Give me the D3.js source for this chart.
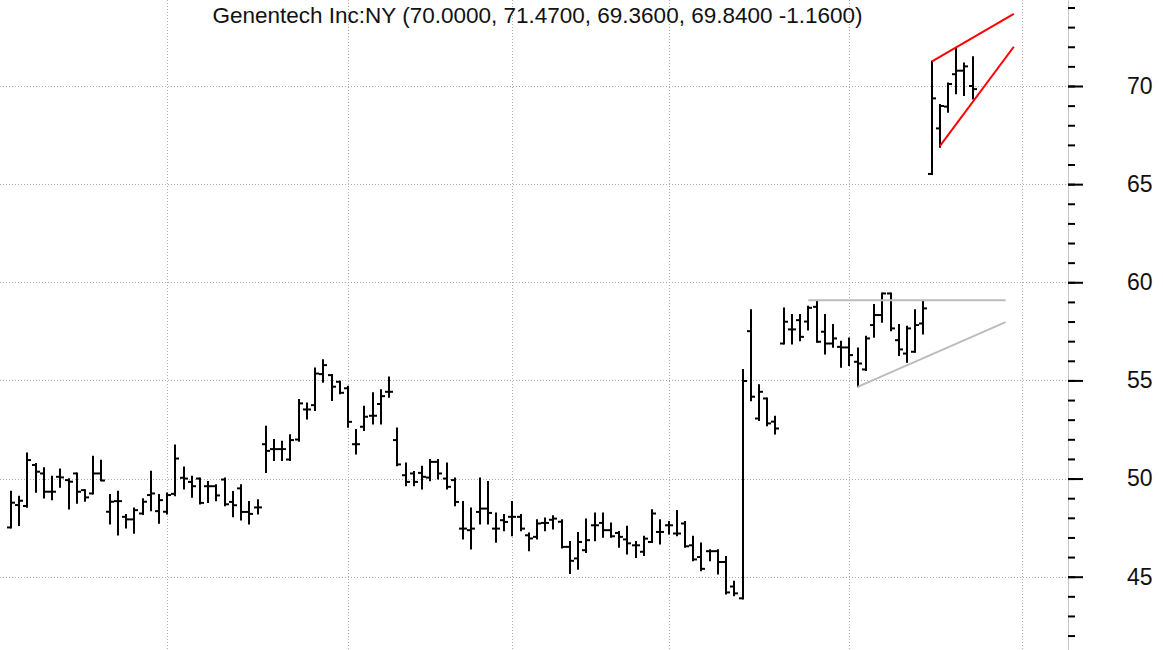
<!DOCTYPE html>
<html>
<head>
<meta charset="utf-8">
<script src="https://cdn.jsdelivr.net/npm/d3@7"></script>
<style>
  body { margin: 0; background: #fff; }
  svg { display: block; font-family: "Liberation Sans", Arial, sans-serif; }
</style>
</head>
<body>
<div class="chart"></div>
<script>
/*globals d3*/
const title = "Genentech Inc:NY (70.0000, 71.4700, 69.3600, 69.8400 -1.1600)";

// daily OHLC (118 sessions)
const opens = [
  47.51, 48.65, 48.60, 50.69, 50.26, 49.33, 50.09, 49.92, 50.26, 49.41,
  49.24, 50.26, 48.31, 48.85, 48.05, 47.92, 48.22, 49.16, 48.34, 48.31,
  49.22, 50.04, 49.83, 50.00, 49.61, 49.61, 49.95, 48.81, 49.50, 48.30,
  48.53, 51.75, 51.50, 51.50, 50.97, 51.99, 53.52, 53.74, 55.32, 55.27,
  54.93, 54.60, 51.75, 52.64, 53.20, 53.80, 54.42, 51.96, 50.17, 50.26,
  50.29, 50.05, 50.85, 50.00, 49.92, 47.45, 47.37, 48.30, 48.47, 47.45,
  47.88, 48.05, 48.05, 47.11, 47.03, 47.74, 47.90, 47.80, 46.52, 45.93,
  46.35, 47.62, 47.74, 47.37, 47.23, 46.90, 46.60, 46.27, 46.77, 47.28,
  47.62, 47.20, 47.71, 46.60, 46.00, 46.30, 46.30, 45.75, 44.50, 43.90,
  57.51, 53.06, 54.08, 52.90, 56.88, 57.60, 58.07, 58.00, 58.75, 57.48,
  56.88, 56.71, 56.68, 55.95, 55.56, 57.82, 58.33, 59.43, 57.05, 56.37,
  56.46, 57.90, 65.52, 67.84, 68.95, 70.60, 70.78, 70.00
];
const highs = [
  49.33, 49.07, 51.28, 50.74, 50.52, 50.09, 50.46, 49.96, 50.26, 49.41,
  51.11, 50.91, 49.16, 49.33, 48.14, 48.48, 48.94, 50.35, 49.16, 49.24,
  51.68, 50.56, 50.09, 50.00, 49.83, 49.66, 50.00, 49.32, 49.66, 48.81,
  48.90, 52.64, 51.96, 51.87, 52.21, 54.00, 53.83, 55.61, 56.03, 55.27,
  54.93, 54.68, 52.47, 53.66, 54.34, 54.50, 55.15, 52.55, 50.77, 50.34,
  50.60, 50.94, 50.94, 50.77, 50.00, 48.81, 48.47, 50.00, 49.83, 48.22,
  48.14, 48.81, 48.14, 47.20, 47.88, 47.96, 48.08, 47.88, 46.77, 47.23,
  47.91, 48.22, 48.22, 47.71, 47.28, 47.54, 46.77, 47.03, 48.39, 47.88,
  47.79, 48.35, 47.79, 47.03, 46.69, 46.35, 46.35, 46.00, 44.74, 55.53,
  58.58, 54.76, 54.08, 53.15, 58.67, 58.33, 58.33, 58.75, 59.00, 58.33,
  57.82, 56.97, 57.14, 56.63, 57.22, 58.84, 59.43, 59.43, 57.82, 57.73,
  58.58, 59.00, 71.24, 69.03, 70.13, 71.92, 71.15, 71.47
];
const lows = [
  47.51, 47.63, 48.56, 49.33, 49.04, 48.94, 49.58, 48.48, 48.77, 48.87,
  49.24, 49.92, 47.71, 47.15, 47.51, 47.24, 48.19, 48.39, 47.75, 48.22,
  49.15, 49.49, 49.07, 48.73, 48.81, 48.90, 48.64, 48.08, 47.91, 47.71,
  48.22, 50.34, 50.94, 50.94, 50.94, 51.92, 53.06, 53.49, 54.93, 54.00,
  54.34, 52.64, 51.28, 52.47, 52.80, 52.80, 54.17, 50.68, 49.66, 49.66,
  49.49, 49.92, 50.00, 49.49, 48.64, 46.95, 46.44, 47.71, 47.71, 46.78,
  47.37, 47.11, 47.37, 46.35, 46.95, 47.37, 47.45, 46.49, 45.19, 45.41,
  46.26, 46.86, 47.03, 47.03, 46.52, 46.18, 46.01, 46.10, 46.77, 46.69,
  47.20, 47.11, 46.52, 45.84, 45.33, 45.84, 45.16, 44.14, 44.06, 43.89,
  53.99, 52.98, 52.72, 52.30, 56.88, 56.88, 57.05, 57.60, 56.97, 56.37,
  56.71, 55.70, 55.78, 54.70, 55.53, 57.22, 57.99, 57.56, 56.29, 55.95,
  56.46, 57.39, 65.52, 66.91, 68.69, 69.63, 69.54, 69.36
];
const closes = [
  48.77, 48.87, 50.94, 50.35, 49.33, 49.33, 50.06, 49.84, 49.33, 49.04,
  50.26, 49.90, 48.82, 48.85, 47.92, 48.39, 48.82, 49.24, 48.90, 49.16,
  51.02, 50.00, 49.61, 48.76, 49.61, 49.14, 48.69, 48.64, 48.30, 48.20,
  48.53, 51.41, 51.50, 51.50, 51.96, 53.83, 53.52, 55.35, 55.78, 54.68,
  54.37, 52.89, 51.75, 53.15, 53.20, 54.20, 54.42, 50.72, 49.83, 49.83,
  50.09, 50.85, 50.26, 49.58, 48.81, 47.45, 47.45, 48.47, 48.25, 47.45,
  47.79, 48.05, 47.45, 46.95, 47.71, 47.74, 47.96, 46.52, 45.81, 46.77,
  46.86, 47.62, 47.37, 47.06, 47.03, 46.70, 46.60, 46.94, 48.22, 47.28,
  47.62, 47.20, 46.55, 45.88, 45.40, 46.30, 45.75, 44.20, 44.15, 54.97,
  54.17, 54.42, 52.81, 52.55, 57.99, 57.60, 57.22, 58.70, 56.97, 56.88,
  57.14, 56.68, 56.29, 55.86, 57.14, 58.33, 59.43, 57.65, 56.58, 57.65,
  57.82, 58.67, 69.37, 68.98, 70.10, 70.78, 71.00, 69.84
];

// session index where each month starts (dotted verticals)
const monthStarts = [19, 41, 61, 80, 102, 123];
const majorTicks = [45, 50, 55, 60, 65, 70];
const minorTicks = d3.range(42, 75);

// drawn trend lines: [index, price] pairs
const flagLines = [
  [[112, 71.24], [122, 73.67]],
  [[113, 66.94], [122, 72.0]]
];
const triangleLines = [
  [[97, 59.09], [121, 59.09]],
  [[103, 54.67], [121, 57.97]]
];

const width = 1163, height = 650;
const axisX = 1068;

let svg = d3
  .select(".chart")
  .append("svg")
  .attr("width", width)
  .attr("height", height);

let x = d3.scaleLinear().domain([0, 117]).range([11, 972.7]);
let y = d3.scaleLinear().domain([45, 70]).range([576.7, 86]);

// grid
svg
  .append("g")
  .selectAll("line")
  .data(majorTicks)
  .join("line")
  .attr("x1", 0)
  .attr("x2", axisX - 2)
  .attr("y1", (d) => Math.round(y(d)) + 0.5)
  .attr("y2", (d) => Math.round(y(d)) + 0.5)
  .attr("stroke", "#aaaaaa")
  .attr("stroke-dasharray", "1,2");

svg
  .append("g")
  .selectAll("line")
  .data(monthStarts)
  .join("line")
  .attr("x1", (d) => Math.round(x(d)) + 0.5)
  .attr("x2", (d) => Math.round(x(d)) + 0.5)
  .attr("y1", 0)
  .attr("y2", height)
  .attr("stroke", "#aaaaaa")
  .attr("stroke-dasharray", "1,2");

// price axis on the right
svg
  .append("line")
  .attr("x1", axisX + 0.5)
  .attr("x2", axisX + 0.5)
  .attr("y1", 0)
  .attr("y2", height)
  .attr("stroke", "#c8c8c8");

let minorAxis = svg
  .append("g")
  .attr("transform", `translate(${axisX}, 0)`)
  .call(d3.axisRight(y).tickValues(minorTicks).tickSize(7).tickFormat(""));
let majorAxis = svg
  .append("g")
  .attr("transform", `translate(${axisX}, 0)`)
  .call(d3.axisRight(y).tickValues(majorTicks).tickSize(15).tickPadding(44));

svg.selectAll(".domain").remove();
svg.selectAll(".tick line").attr("stroke", "#000").attr("stroke-width", 2);
majorAxis
  .selectAll("text")
  .attr("fill", "#111")
  .style("font-size", "23px")
  .style("font-family", '"Liberation Sans", Arial, sans-serif');

// OHLC bars
let bars = svg
  .append("g")
  .attr("stroke", "#000")
  .attr("stroke-width", 2)
  .selectAll("g")
  .data(d3.range(opens.length))
  .join("g");

bars
  .append("line")
  .attr("x1", (i) => Math.round(x(i)))
  .attr("x2", (i) => Math.round(x(i)))
  .attr("y1", (i) => y(highs[i]) - 1)
  .attr("y2", (i) => y(lows[i]) + 1);
bars
  .append("line")
  .attr("x1", (i) => Math.round(x(i)) - 4)
  .attr("x2", (i) => Math.round(x(i)))
  .attr("y1", (i) => y(opens[i]))
  .attr("y2", (i) => y(opens[i]));
bars
  .append("line")
  .attr("x1", (i) => Math.round(x(i)))
  .attr("x2", (i) => Math.round(x(i)) + 4)
  .attr("y1", (i) => y(closes[i]))
  .attr("y2", (i) => y(closes[i]));

// trend lines
const line = d3
  .line()
  .x((d) => x(d[0]))
  .y((d) => y(d[1]));

svg
  .append("g")
  .selectAll("path")
  .data(triangleLines)
  .join("path")
  .attr("d", line)
  .attr("fill", "none")
  .attr("stroke", "#bcbcbc")
  .attr("stroke-width", 2);

svg
  .append("g")
  .selectAll("path")
  .data(flagLines)
  .join("path")
  .attr("d", line)
  .attr("fill", "none")
  .attr("stroke", "#ff0000")
  .attr("stroke-width", 2);

// title
svg
  .append("text")
  .attr("x", 537.5)
  .attr("y", 23)
  .attr("text-anchor", "middle")
  .style("font-size", "22.5px")
  .attr("fill", "#111")
  .text(title);
</script>
</body>
</html>
